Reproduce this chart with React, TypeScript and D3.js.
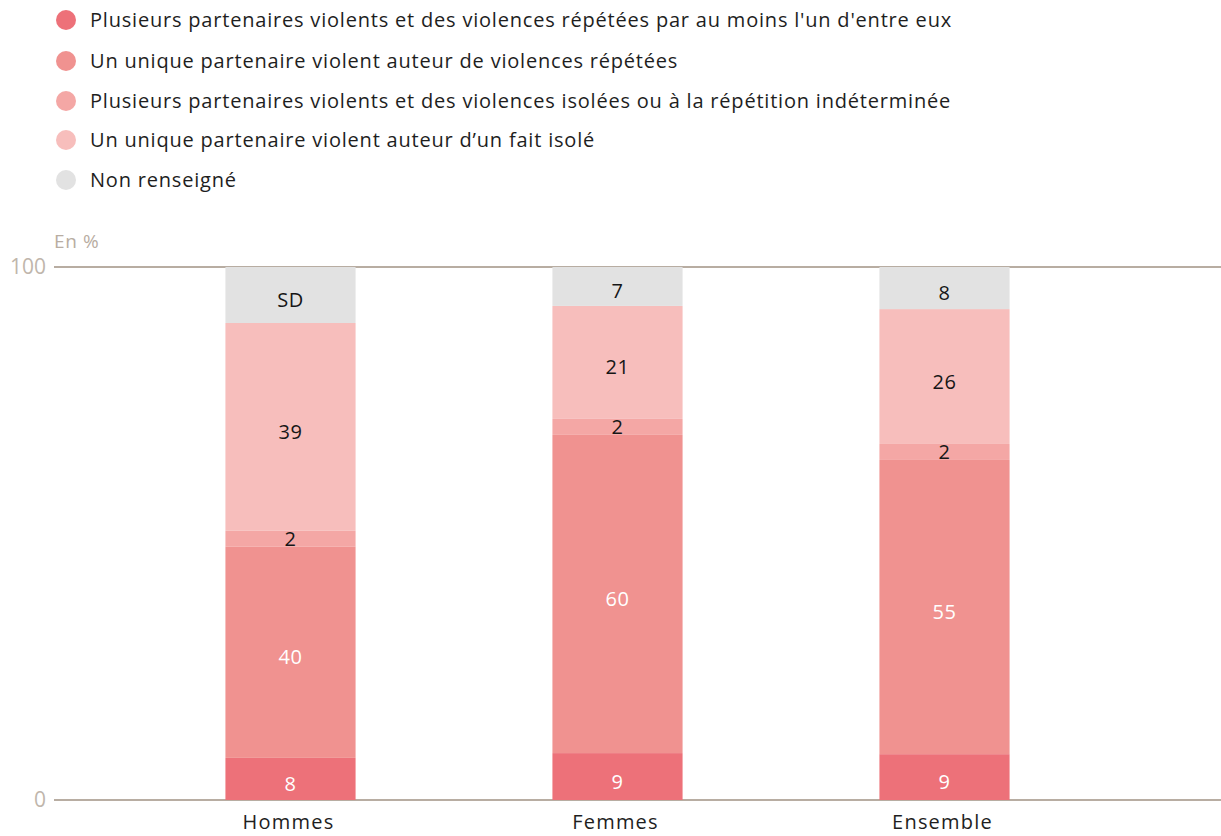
import { useEffect, useRef } from 'react'
import * as d3 from 'd3'

const categories = ['Hommes', 'Femmes', 'Ensemble']

const seriesNames = [
  "Plusieurs partenaires violents et des violences répétées par au moins l'un d'entre eux",
  'Un unique partenaire violent auteur de violences répétées',
  'Plusieurs partenaires violents et des violences isolées ou à la répétition indéterminée',
  'Un unique partenaire violent auteur d\u2019un fait isolé',
  'Non renseigné',
]
const seriesKeys = ['plusRep', 'uniqueRep', 'plusIso', 'uniqueIso', 'nr']
const seriesColors = ['#ED7179', '#F09290', '#F4A7A5', '#F7BEBC', '#E2E2E2']
const labelColors = ['#ffffff', '#ffffff', '#161616', '#161616', '#161616']

// heights (en %)
const plusRep = [7.9, 8.8, 8.6]
const uniqueRep = [39.6, 59.7, 55.2]
const plusIso = [3.0, 3.0, 3.0]
const uniqueIso = [39.0, 21.2, 25.3]
const nonRenseigne = [10.5, 7.3, 7.9]

// labels printed on the bars
const plusRepLabels = ['8', '9', '9']
const uniqueRepLabels = ['40', '60', '55']
const plusIsoLabels = ['2', '2', '2']
const uniqueIsoLabels = ['39', '21', '26']
const nrLabels = ['SD', '7', '8']

const yTicks = [0, 100]

const FONT = '"Open Sans", sans-serif'

export default function App() {
  const svgRef = useRef<SVGSVGElement>(null)

  useEffect(() => {
    const W = 1221
    const H = 836
    const svg = d3.select(svgRef.current).attr('width', W).attr('height', H)
    svg.selectAll('*').remove()

    const allValues = [plusRep, uniqueRep, plusIso, uniqueIso, nonRenseigne]
    const allLabels = [plusRepLabels, uniqueRepLabels, plusIsoLabels, uniqueIsoLabels, nrLabels]

    const table = categories.map((c, i) => {
      const row: any = { cat: c }
      seriesKeys.forEach((k, j) => (row[k] = allValues[j][i]))
      return row
    })

    const x = d3.scaleBand().domain(categories).range([127, 1108]).paddingInner(0.602).paddingOuter(0.301)
    const y = d3.scaleLinear().domain([0, 100]).range([800, 267])

    // legend
    const legend = svg.append('g')
    const legendY = [20, 61, 101, 140, 180]
    seriesNames.forEach((name, i) => {
      legend.append('circle').attr('cx', 66).attr('cy', legendY[i]).attr('r', 10).attr('fill', seriesColors[i])
      legend
        .append('text')
        .attr('x', 90)
        .attr('y', legendY[i])
        .attr('dy', '0.35em')
        .attr('font-family', FONT)
        .attr('font-size', 20)
        .attr('letter-spacing', 0.8)
        .attr('fill', '#1e1e1e')
        .text(name)
    })

    // unit
    svg
      .append('text')
      .attr('x', 54)
      .attr('y', 248)
      .attr('font-family', FONT)
      .attr('font-size', 19)
      .attr('letter-spacing', 0.6)
      .attr('fill', '#B8ADA2')
      .text('En %')

    // axis lines + tick labels
    svg
      .selectAll('line.grid')
      .data(yTicks)
      .join('line')
      .attr('class', 'grid')
      .attr('x1', 54)
      .attr('x2', W)
      .attr('y1', (d) => y(d))
      .attr('y2', (d) => y(d))
      .attr('stroke', '#B8ADA2')
      .attr('stroke-width', 2)

    svg
      .selectAll('text.tick')
      .data(yTicks)
      .join('text')
      .attr('class', 'tick')
      .attr('x', 46)
      .attr('y', (d) => y(d))
      .attr('dy', '0.35em')
      .attr('text-anchor', 'end')
      .attr('font-family', FONT)
      .attr('font-size', 21)
      .attr('fill', '#C0B6AB')
      .text((d) => d)

    // stacked bars
    const stacked = d3.stack<any>().keys(seriesKeys)(table)

    const layers = svg
      .selectAll('g.layer')
      .data(stacked)
      .join('g')
      .attr('class', 'layer')
      .attr('fill', (_, i) => seriesColors[i])

    layers
      .selectAll('rect')
      .data((d) => d)
      .join('rect')
      .attr('x', (d: any) => x(d.data.cat)!)
      .attr('width', x.bandwidth())
      .attr('y', (d) => y(d[1]))
      .attr('height', (d) => y(d[0]) - y(d[1]))

    stacked.forEach((layer, j) => {
      svg
        .append('g')
        .selectAll('text')
        .data(layer)
        .join('text')
        .attr('x', (d: any) => x(d.data.cat)! + x.bandwidth() / 2)
        .attr('y', (d) => {
          const h = y(d[0]) - y(d[1])
          return (y(d[0]) + y(d[1])) / 2 + (h > 30 ? 5 : 0)
        })
        .attr('dy', '0.35em')
        .attr('text-anchor', 'middle')
        .attr('font-family', FONT)
        .attr('font-size', 20)
        .attr('letter-spacing', 0.6)
        .attr('fill', labelColors[j])
        .text((_, i) => allLabels[j][i])
    })

    // category labels
    svg
      .selectAll('text.cat')
      .data(categories)
      .join('text')
      .attr('class', 'cat')
      .attr('x', (d) => x(d)! + x.bandwidth() / 2 - 2)
      .attr('y', 822)
      .attr('dy', '0.35em')
      .attr('text-anchor', 'middle')
      .attr('font-family', FONT)
      .attr('font-size', 20)
      .attr('letter-spacing', 1.2)
      .attr('fill', '#1e1e1e')
      .text((d) => d)
  }, [])

  return <svg ref={svgRef} style={{ position: 'absolute', left: 0, top: 0 }}></svg>
}
